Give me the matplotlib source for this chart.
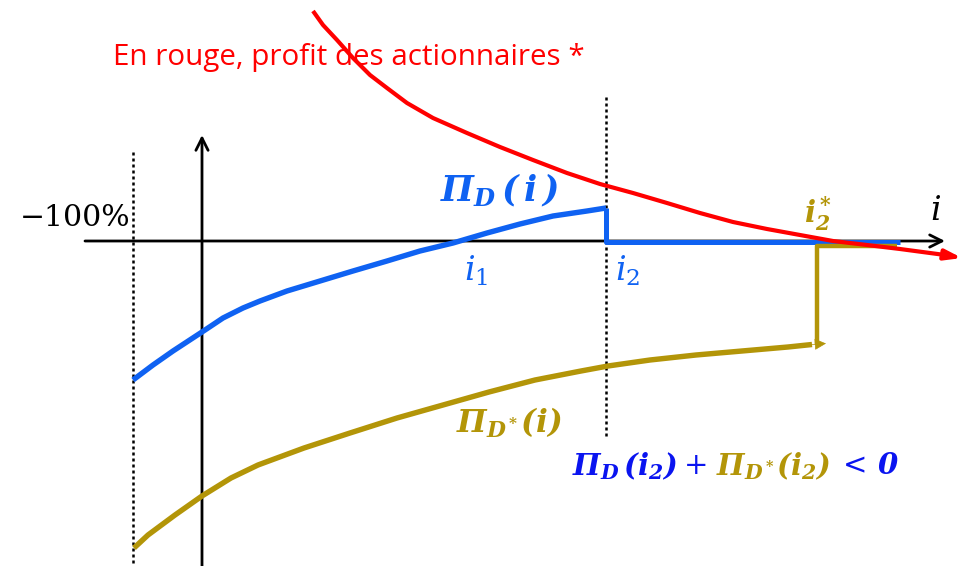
import matplotlib
matplotlib.use("Agg")
import matplotlib.pyplot as plt

plt.rcParams['mathtext.fontset'] = 'custom'
plt.rcParams['mathtext.rm'] = 'DejaVu Serif'
plt.rcParams['mathtext.it'] = 'DejaVu Serif:italic'
plt.rcParams['mathtext.bf'] = 'DejaVu Serif:italic:bold'

# Data (diagram coordinates, y grows downward)
blue_x = [133, 153, 173, 202, 223, 243, 260, 287, 320, 353, 387, 420, 453, 487, 520, 553, 587, 606]
blue_y = [380, 365, 351, 332, 318, 308, 301, 291, 281, 271, 261, 251, 243, 233, 224, 216, 211, 208]
blue_tail_x = [606, 606, 900]
blue_tail_y = [208, 242, 242]

red_x = [313, 323, 337, 353, 370, 387, 407, 433, 467, 500, 533, 567, 600, 633, 667,
         700, 733, 767, 800, 833, 867, 900, 945]
red_y = [11, 25, 40, 58, 75, 88, 103, 118, 133, 147, 160, 173, 184, 193, 203,
         213, 222, 229, 235, 241, 245, 249, 255]

gold_x = [134, 148, 175, 202, 231, 258, 304, 350, 397, 443, 489, 535, 581, 608,
          650, 696, 742, 788, 812]
gold_y = [548, 535, 515, 496, 478, 465, 448, 433, 418, 405, 392, 380, 371, 366,
          360, 355, 351, 347, 344.5]
gold_tail_x = [817, 817, 897]
gold_tail_y = [345, 246, 246]

axis_y = 241
axis_x = 202
dotted_x = [133, 606]

BLUE = '#0F62F2'
DEEPBLUE = '#0A14F0'
RED = '#FF0000'
GOLD = '#B39508'

fig = plt.figure(figsize=(9.66, 5.66), dpi=100)
ax = fig.add_axes([0, 0, 1, 1])
ax.set_xlim(0, 966)
ax.set_ylim(566, 0)
ax.axis('off')

# axes
ax.annotate('', xy=(945, axis_y), xytext=(85, axis_y),
            arrowprops=dict(arrowstyle='->', lw=2, color='black', mutation_scale=22,
                            shrinkA=0, shrinkB=0))
ax.annotate('', xy=(axis_x, 135), xytext=(axis_x, 566),
            arrowprops=dict(arrowstyle='->', lw=2, color='black', mutation_scale=22,
                            shrinkA=0, shrinkB=0))

# dotted verticals
ax.plot([dotted_x[0]] * 2, [152, 566], color='black', lw=1.8, ls=(0, (1.2, 1.2)))
ax.plot([dotted_x[1]] * 2, [97, 437], color='black', lw=1.8, ls=(0, (1.2, 1.2)))

# curves
ax.plot(blue_x, blue_y, color=BLUE, lw=3.9, solid_capstyle='butt',
        solid_joinstyle='round', zorder=3)
ax.plot(blue_tail_x, blue_tail_y, color=BLUE, lw=3.6, solid_capstyle='butt', zorder=3)
ax.plot(gold_x, gold_y, color=GOLD, lw=3.9, solid_capstyle='butt',
        solid_joinstyle='round', zorder=3)
ax.plot(gold_tail_x, gold_tail_y, color=GOLD, lw=3.2, solid_capstyle='butt', zorder=3)
ax.annotate('', xy=(826, 343.5), xytext=(gold_x[-1], gold_y[-1]),
            arrowprops=dict(arrowstyle='-|>,head_length=0.6,head_width=0.3', lw=0.5,
                            color=GOLD, mutation_scale=12, shrinkA=0, shrinkB=0), zorder=3)
ax.plot(red_x, red_y, color=RED, lw=3.0, solid_capstyle='butt',
        solid_joinstyle='round', zorder=4)
ax.annotate('', xy=(962, 258), xytext=(red_x[-1], red_y[-1]),
            arrowprops=dict(arrowstyle='-|>,head_length=0.8,head_width=0.25', lw=3,
                            color=RED, mutation_scale=12, shrinkA=0, shrinkB=0), zorder=4)

# texts
ax.text(113, 57, 'En rouge, profit des actionnaires *', color=RED, fontsize=21.3,
        family='Open Sans', va='center', ha='left')
ax.text(130, 218, '−100%', family='DejaVu Serif', fontsize=21.5, va='center', ha='right')
ax.text(930, 210, r'$i$', fontsize=24, va='center', ha='left')
ax.text(464, 271, r'$i_1$', fontsize=24, color=BLUE, va='center', ha='left')
ax.text(615, 271, r'$i_2$', fontsize=24, color=BLUE, va='center', ha='left')
ax.text(804, 214, r'$\mathbf{i_2^*}$', fontsize=21, color=GOLD, va='center', ha='left')
ax.text(440, 190, r'$\mathbf{\Pi_D\,(\,i\,)}$', fontsize=25, color=BLUE, va='center', ha='left')
ax.text(456, 423, r'$\mathbf{\Pi_{D^*}(i)}$', fontsize=22.5, color=GOLD, va='center', ha='left')

ax.text(572, 466, r'$\mathbf{\Pi_D\,(i_2)}$', fontsize=21, color=DEEPBLUE, va='center', ha='left')
ax.text(683, 466, r'$+$', fontsize=21, color=DEEPBLUE, va='center', ha='left')
ax.text(716, 466, r'$\mathbf{\Pi_{D^*}(i_2)}$', fontsize=21, color=GOLD, va='center', ha='left')
ax.text(837, 466, r'$<\,\mathrm{\mathbf{0}}$', fontsize=21, color=DEEPBLUE, va='center', ha='left')

fig.savefig('out.png', dpi=100)
